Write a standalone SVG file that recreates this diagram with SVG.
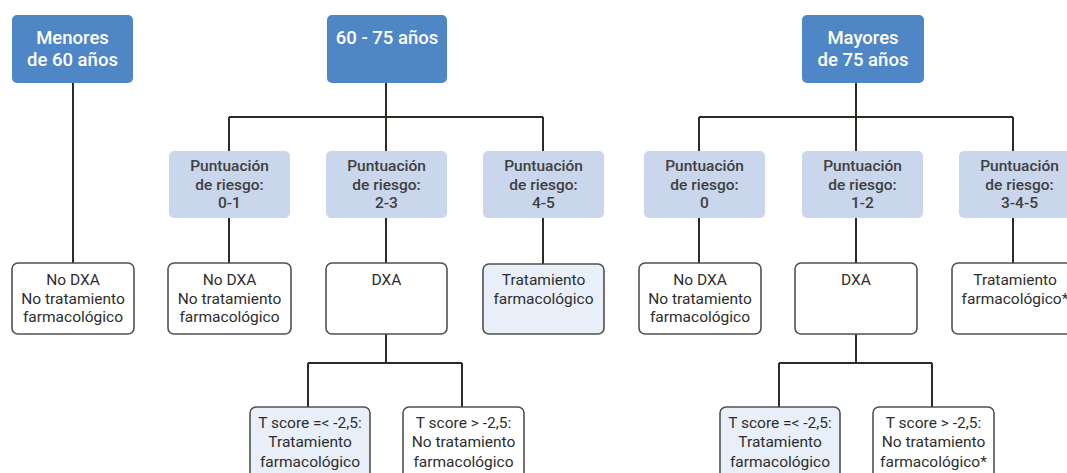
<svg xmlns="http://www.w3.org/2000/svg" width="1067" height="473" viewBox="0 0 1067 473">
<style>
.top{fill:#4f86c6;stroke:none}
.mid{fill:#c9d6ec;stroke:none}
.out{fill:#ffffff;stroke:#505050;stroke-width:1.6}
.outl{fill:#e9eff8;stroke:#505050;stroke-width:1.6}
.tt{font-family:Roboto,"Liberation Sans",sans-serif;font-size:18.5px;font-weight:500;fill:#ffffff;text-anchor:middle}
.tm{font-family:Roboto,"Liberation Sans",sans-serif;font-size:15.5px;font-weight:500;fill:#404040;text-anchor:middle}
.to{font-family:Roboto,"Liberation Sans",sans-serif;font-size:15.5px;font-weight:400;fill:#2e2e2e;text-anchor:middle}
.c{fill:none;stroke:#2f2a24;stroke-width:2}
</style>
<rect width="1067" height="473" fill="#ffffff"/>
<g id="connectors">
<path class="c" d="M73 83V263"/>
<path class="c" d="M386 83V117M229 117H543M229 117V151M386 117V151M543 117V151"/>
<path class="c" d="M229 218V263M386 218V263M543 218V264"/>
<path class="c" d="M386 334V363M308 363H462M308 363V407M462 363V407"/>
<path class="c" d="M856 83V117M699 117H1013M699 117V151M856 117V151M1013 117V151"/>
<path class="c" d="M699 218V263M856 218V263M1013 218V263"/>
<path class="c" d="M856 334V363M779 363H932M779 363V407M932 363V407"/>
</g>
<g id="n-menores"><rect class="top" x="12" y="15" width="121" height="68" rx="5"/><text class="tt" x="72.5" y="44">Menores</text><text class="tt" x="72.5" y="66">de 60 años</text></g>
<g id="n-6075"><rect class="top" x="327" y="15" width="120" height="68" rx="5"/><text class="tt" x="387" y="44">60 - 75 años</text></g>
<g id="n-mayores"><rect class="top" x="802" y="15" width="122" height="68" rx="5"/><text class="tt" x="863" y="44">Mayores</text><text class="tt" x="863" y="66">de 75 años</text></g>
<g id="n-p01"><rect class="mid" x="169" y="151" width="121" height="67" rx="5"/><text class="tm" x="229.5" y="171">Puntuación</text><text class="tm" x="229.5" y="190">de riesgo:</text><text class="tm" x="229.5" y="208">0-1</text></g>
<g id="n-p23"><rect class="mid" x="326" y="151" width="121" height="67" rx="5"/><text class="tm" x="386.5" y="171">Puntuación</text><text class="tm" x="386.5" y="190">de riesgo:</text><text class="tm" x="386.5" y="208">2-3</text></g>
<g id="n-p45"><rect class="mid" x="483" y="151" width="121" height="67" rx="5"/><text class="tm" x="543.5" y="171">Puntuación</text><text class="tm" x="543.5" y="190">de riesgo:</text><text class="tm" x="543.5" y="208">4-5</text></g>
<g id="n-p0"><rect class="mid" x="644" y="151" width="121" height="67" rx="5"/><text class="tm" x="704.5" y="171">Puntuación</text><text class="tm" x="704.5" y="190">de riesgo:</text><text class="tm" x="704.5" y="208">0</text></g>
<g id="n-p12"><rect class="mid" x="802" y="151" width="121" height="67" rx="5"/><text class="tm" x="862.5" y="171">Puntuación</text><text class="tm" x="862.5" y="190">de riesgo:</text><text class="tm" x="862.5" y="208">1-2</text></g>
<g id="n-p345"><rect class="mid" x="959" y="151" width="121" height="67" rx="5"/><text class="tm" x="1019.5" y="171">Puntuación</text><text class="tm" x="1019.5" y="190">de riesgo:</text><text class="tm" x="1019.5" y="208">3-4-5</text></g>
<g id="n-nodxa1"><rect class="out" x="12" y="263" width="122" height="71" rx="6"/><text class="to" x="73" y="285">No DXA</text><text class="to" x="73" y="304">No tratamiento</text><text class="to" x="73" y="322">farmacológico</text></g>
<g id="n-nodxa2"><rect class="out" x="168" y="263" width="123" height="71" rx="6"/><text class="to" x="229.5" y="285">No DXA</text><text class="to" x="229.5" y="304">No tratamiento</text><text class="to" x="229.5" y="322">farmacológico</text></g>
<g id="n-dxa1"><rect class="out" x="326" y="263" width="121" height="71" rx="6"/><text class="to" x="386.5" y="285">DXA</text></g>
<g id="n-trat1"><rect class="outl" x="483" y="264" width="121" height="70" rx="6"/><text class="to" x="543.5" y="285">Tratamiento</text><text class="to" x="543.5" y="304">farmacológico</text></g>
<g id="n-nodxa3"><rect class="out" x="639" y="263" width="122" height="71" rx="6"/><text class="to" x="700" y="285">No DXA</text><text class="to" x="700" y="304">No tratamiento</text><text class="to" x="700" y="322">farmacológico</text></g>
<g id="n-dxa2"><rect class="out" x="795" y="263" width="122" height="71" rx="6"/><text class="to" x="856" y="285">DXA</text></g>
<g id="n-trat2"><rect class="out" x="952" y="263" width="125" height="71" rx="6"/><text class="to" x="1015" y="285">Tratamiento</text><text class="to" x="1015" y="304">farmacológico*</text></g>
<g id="n-t1"><rect class="outl" x="250" y="407" width="120" height="72" rx="6"/><text class="to" x="310" y="428">T score =&lt; -2,5:</text><text class="to" x="310" y="447">Tratamiento</text><text class="to" x="310" y="467">farmacológico</text></g>
<g id="n-t2"><rect class="out" x="403" y="407" width="121" height="72" rx="6"/><text class="to" x="463.5" y="428">T score &gt; -2,5:</text><text class="to" x="463.5" y="447">No tratamiento</text><text class="to" x="463.5" y="467">farmacológico</text></g>
<g id="n-t3"><rect class="outl" x="720" y="407" width="120" height="72" rx="6"/><text class="to" x="780" y="428">T score =&lt; -2,5:</text><text class="to" x="780" y="447">Tratamiento</text><text class="to" x="780" y="467">farmacológico</text></g>
<g id="n-t4"><rect class="out" x="873" y="407" width="121" height="72" rx="6"/><text class="to" x="933.5" y="428">T score &gt; -2,5:</text><text class="to" x="933.5" y="447">No tratamiento</text><text class="to" x="933.5" y="467">farmacológico*</text></g>
</svg>
